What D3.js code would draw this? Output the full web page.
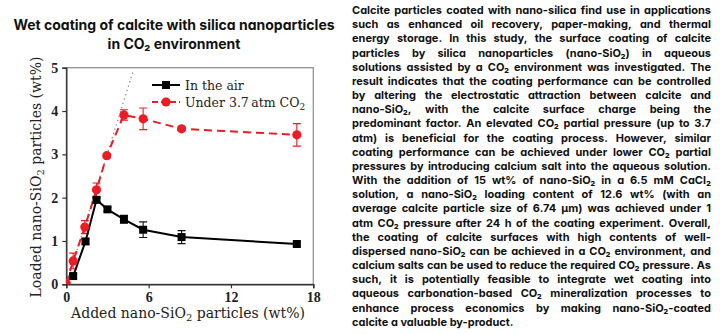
<!DOCTYPE html>
<html><head><meta charset="utf-8">
<script src="https://cdn.jsdelivr.net/npm/d3@7"></script>
<style>
html,body{margin:0;padding:0;background:#fff;}
svg{display:block;}
</style></head>
<body>
<script>
// ---- data ----
const titleLines = ["Wet coating of calcite with silica nanoparticles", "in CO\u2082 environment"];
const airX   = [0.5, 1.4, 2.2, 3.0, 4.2, 5.6, 8.4, 16.8];
const airY   = [0.19, 0.99, 1.95, 1.73, 1.50, 1.26, 1.09, 0.93];
const airErr = [0.05, 0.06, 0.05, 0.05, 0.09, 0.18, 0.15, 0.05];
const co2X   = [0, 0.5, 1.35, 2.2, 2.95, 4.2, 5.6, 8.4, 16.8];
const co2Y   = [0.02, 0.54, 1.32, 2.18, 2.97, 3.91, 3.82, 3.59, 3.45];
const co2Err = [0, 0.18, 0.15, 0.16, 0.05, 0.12, 0.25, 0.04, 0.26];
const refX   = [0, 4.85];
const refY   = [0, 4.9];
const xTicks = [0, 6, 12, 18];
const yTicks = [0, 1, 2, 3, 4, 5];
const legendLabels = ["In the air", "Under 3.7\u2009atm CO"];
const paragraph = [
"Calcite particles coated with nano-silica find use in applications",
"such as enhanced oil recovery, paper-making, and thermal",
"energy storage. In this study, the surface coating of calcite",
"particles by silica nanoparticles (nano-SiO\u2082) in aqueous",
"solutions assisted by a CO\u2082 environment was investigated. The",
"result indicates that the coating performance can be controlled",
"by altering the electrostatic attraction between calcite and",
"nano-SiO\u2082, with the calcite surface charge being the",
"predominant factor. An elevated CO\u2082 partial pressure (up to 3.7",
"atm) is beneficial for the coating process. However, similar",
"coating performance can be achieved under lower CO\u2082 partial",
"pressures by introducing calcium salt into the aqueous solution.",
"With the addition of 15 wt% of nano-SiO\u2082 in a 6.5 mM CaCl\u2082",
"solution, a nano-SiO\u2082 loading content of 12.6 wt% (with an",
"average calcite particle size of 6.74 \u03bcm) was achieved under 1",
"atm CO\u2082 pressure after 24 h of the coating experiment. Overall,",
"the coating of calcite surfaces with high contents of well-",
"dispersed nano-SiO\u2082 can be achieved in a CO\u2082 environment, and",
"calcium salts can be used to reduce the required CO\u2082 pressure. As",
"such, it is potentially feasible to integrate wet coating into",
"aqueous carbonation-based CO\u2082 mineralization processes to",
"enhance process economics by making nano-SiO\u2082-coated",
"calcite a valuable by-product."
];

const W = 720, H = 334;
const RED = "#ec1c24";
const svg = d3.select("body").append("svg").attr("width", W).attr("height", H);

// ---- title ----
const title = svg.append("text").attr("text-anchor", "middle")
  .style("font-family", "Inter, 'Open Sans', sans-serif").style("font-weight", 700)
  .style("font-size", "14px").style("font-feature-settings", "'cv11'").attr("fill", "#111");
titleLines.forEach((t, i) => title.append("tspan").attr("x", 174).attr("y", 30 + i * 18.5).text(t));

// ---- chart ----
const x = d3.scaleLinear().domain([0, 18]).range([66.3, 313.3]);
const y = d3.scaleLinear().domain([0, 5]).range([284.3, 67.7]);
const serif = "'DejaVu Serif', serif";

svg.append("defs").append("clipPath").attr("id", "clip").append("rect")
  .attr("x", x(0)).attr("y", y(5)).attr("width", x(18) - x(0)).attr("height", y(0) - y(5));

svg.append("rect").attr("x", x(0)).attr("y", y(5)).attr("width", x(18) - x(0)).attr("height", y(0) - y(5))
  .attr("fill", "none").attr("stroke", "#8a8a8a").attr("stroke-width", 1.2);

const xAxis = svg.append("g").attr("transform", `translate(0,${y(0)})`)
  .call(d3.axisBottom(x).tickValues(xTicks).tickFormat(d3.format("d")).tickSize(4).tickPadding(4));
const yAxis = svg.append("g").attr("transform", `translate(${x(0)},0)`)
  .call(d3.axisLeft(y).tickValues(yTicks).tickFormat(d3.format("d")).tickSize(4).tickPadding(4));
[xAxis, yAxis].forEach(g => {
  g.select(".domain").attr("stroke", "#333").attr("stroke-width", 1.4);
  g.selectAll(".tick line").attr("stroke", "#333").attr("stroke-width", 1.2);
  g.selectAll(".tick text").attr("fill", "#222")
    .style("font-family", "'Liberation Serif', serif").style("font-weight", 700).style("font-size", "14px");
});

const plot = svg.append("g").attr("clip-path", "url(#clip)");

// reference dotted line
plot.append("path").datum(refX.map((v, i) => [v, refY[i]]))
  .attr("d", d3.line().x(d => x(d[0])).y(d => y(d[1])))
  .attr("fill", "none").attr("stroke", "#8c8c8c").attr("stroke-width", 1.3).attr("stroke-dasharray", "1.3,3.2");

const air = airX.map((v, i) => ({x: v, y: airY[i], e: airErr[i]}));
const co2 = co2X.map((v, i) => ({x: v, y: co2Y[i], e: co2Err[i]}));
const line = d3.line().x(d => x(d.x)).y(d => y(d.y));

// error bars
function errBars(data, color) {
  const g = plot.append("g").attr("stroke", color).attr("stroke-width", 1.1);
  data.filter(d => d.e > 0).forEach(d => {
    g.append("line").attr("x1", x(d.x)).attr("x2", x(d.x)).attr("y1", y(d.y - d.e)).attr("y2", y(d.y + d.e));
    [d.y - d.e, d.y + d.e].forEach(v => g.append("line")
      .attr("x1", x(d.x) - 4).attr("x2", x(d.x) + 4).attr("y1", y(v)).attr("y2", y(v)));
  });
}
errBars(air, "#111");
errBars(co2, RED);

plot.append("path").datum(air).attr("d", line).attr("fill", "none").attr("stroke", "#000").attr("stroke-width", 2);
plot.append("path").datum(co2).attr("d", line).attr("fill", "none").attr("stroke", RED)
  .attr("stroke-width", 2).attr("stroke-dasharray", "8,5");

plot.selectAll(".sq").data(air).enter().append("rect")
  .attr("x", d => x(d.x) - 4).attr("y", d => y(d.y) - 4).attr("width", 8).attr("height", 8).attr("fill", "#000");
plot.selectAll(".ci").data(co2).enter().append("circle")
  .attr("cx", d => x(d.x)).attr("cy", d => y(d.y)).attr("r", 4.6).attr("fill", RED);

// legend
const lg = svg.append("g");
[["#000", "sq", 85], [RED, "ci", 102]].forEach(([c, m, ly], i) => {
  lg.append("line").attr("x1", 152).attr("x2", 180).attr("y1", ly).attr("y2", ly)
    .attr("stroke", c).attr("stroke-width", 2).attr("stroke-dasharray", i ? "6,3" : null);
  if (m === "sq") lg.append("rect").attr("x", 162).attr("y", ly - 4).attr("width", 8).attr("height", 8).attr("fill", c);
  else lg.append("circle").attr("cx", 166).attr("cy", ly).attr("r", 4.6).attr("fill", c);
  const t = lg.append("text").attr("x", 185).attr("y", ly + 4.5).attr("fill", "#222")
    .style("font-family", serif).style("font-size", "12.5px").text(legendLabels[i]);
  if (i === 1) t.append("tspan").attr("dy", 3).style("font-size", "9px").text("2");
});

// axis labels
const xl = svg.append("text").attr("x", 188).attr("y", 318).attr("text-anchor", "middle").attr("fill", "#222")
  .style("font-family", serif).style("font-size", "14px");
xl.append("tspan").text("Added nano-SiO");
xl.append("tspan").attr("dy", 3).style("font-size", "10px").text("2");
xl.append("tspan").attr("dy", -3).text(" particles (wt%)");

const yl = svg.append("text").attr("transform", "translate(41,177) rotate(-90)").attr("text-anchor", "middle").attr("fill", "#222")
  .style("font-family", serif).style("font-size", "14px");
yl.append("tspan").text("Loaded nano-SiO");
yl.append("tspan").attr("dy", 3).style("font-size", "10px").text("2");
yl.append("tspan").attr("dy", -3).text(" particles (wt%)");

// ---- paragraph (justified) ----
const pFont = {family: "Inter, 'Open Sans', sans-serif", weight: 700, size: "11px"};
const left = 352, right = 711, top0 = 14, lh = 14.17;
const pg = svg.append("g").attr("fill", "#111");
const meas = svg.append("text").style("font-family", pFont.family).style("font-weight", pFont.weight)
  .style("font-size", pFont.size).style("font-feature-settings", "'cv11'");
function wlen(s) { meas.text(s); return meas.node().getComputedTextLength(); }
paragraph.forEach((ln, i) => {
  const t = pg.append("text").attr("y", top0 + i * lh)
    .style("font-family", pFont.family).style("font-weight", pFont.weight)
    .style("font-size", pFont.size).style("font-feature-settings", "'cv11'");
  if (i === paragraph.length - 1) { t.attr("x", left).text(ln); return; }
  const words = ln.split(" ");
  const widths = words.map(wlen);
  const gap = Math.max(2, (right - left - d3.sum(widths)) / (words.length - 1));
  let cx = left;
  words.forEach((w, j) => { t.append("tspan").attr("x", cx).text(w); cx += widths[j] + gap; });
});
meas.remove();
</script>
</body></html>
